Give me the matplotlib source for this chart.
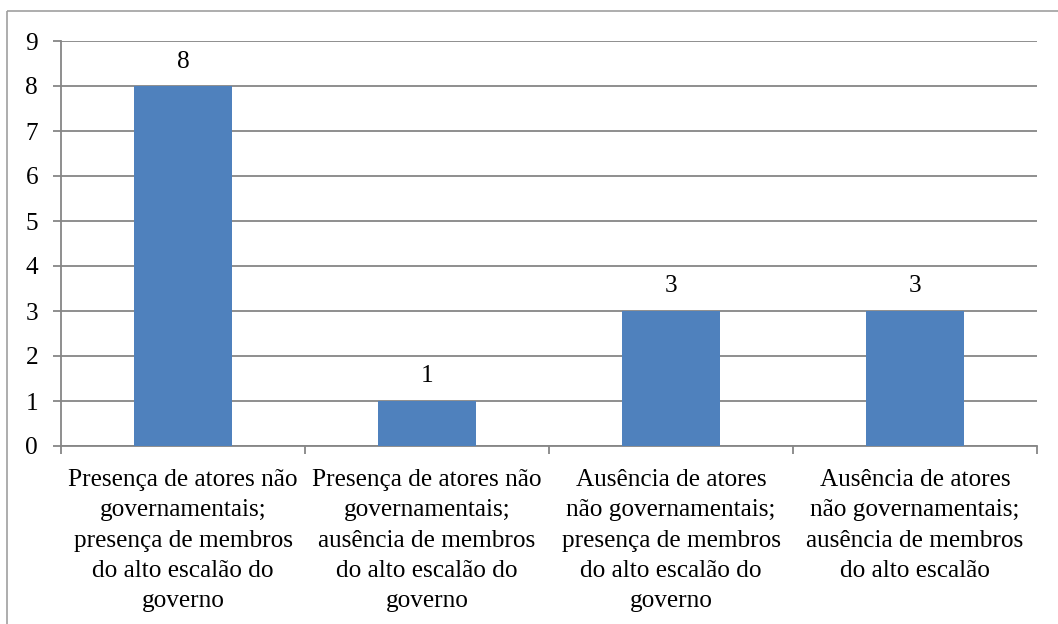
import matplotlib.pyplot as plt
from matplotlib.patches import Rectangle

categorias = [
    "Presença de atores não\ngovernamentais;\npresença de membros\ndo alto escalão do\ngoverno",
    "Presença de atores não\ngovernamentais;\nausência de membros\ndo alto escalão do\ngoverno",
    "Ausência de atores\nnão governamentais;\npresença de membros\ndo alto escalão do\ngoverno",
    "Ausência de atores\nnão governamentais;\nausência de membros\ndo alto escalão",
]
valores = [8, 1, 3, 3]
ticks_y = list(range(0, 10))

plt.rcParams['font.family'] = ['Liberation Serif', 'DejaVu Serif']
fs = 18.2
cinza = '#868686'

W, H = 1058, 624
fig = plt.figure(figsize=(W / 100, H / 100), dpi=100, facecolor='white')
ax = fig.add_axes([61 / W, 1 - 446 / H, (1037 - 61) / W, (446 - 41) / H])

x = list(range(len(valores)))
ax.bar(x, valores, width=0.4, color='#4F81BD', zorder=3)
for xi, v in zip(x, valores):
    ax.text(xi, v + 0.3, str(v), ha='center', va='bottom', fontsize=fs)

ax.set_xlim(-0.5, len(valores) - 0.5)
ax.set_ylim(0, 9)
ax.set_yticks(ticks_y)
ax.set_yticklabels([str(t) for t in ticks_y], fontsize=fs)
ax.yaxis.grid(True, color=cinza, linewidth=1.3, zorder=0)

# rotulos das categorias centrados, ticks nas fronteiras
ax.set_xticks(x)
ax.set_xticklabels(categorias, fontsize=fs, linespacing=1.49)
ax.tick_params(axis='x', length=0, pad=16.5)
ax.set_xticks([i - 0.5 for i in range(len(valores) + 1)], minor=True)
ax.tick_params(axis='x', which='minor', length=5.5, color=cinza, width=1.3)
ax.tick_params(axis='y', length=5.5, color=cinza, width=1.3, pad=11)

for lado in ['top', 'right']:
    ax.spines[lado].set_visible(False)
for lado in ['left', 'bottom']:
    ax.spines[lado].set_color(cinza)
    ax.spines[lado].set_linewidth(1.3)

# borda externa do grafico
fig.patches.append(Rectangle((7, H - 11), W, -H, transform=None,
                             fill=False, edgecolor='#A0A0A0', linewidth=1.2))

fig.savefig('out.png', dpi=100, facecolor='white')
